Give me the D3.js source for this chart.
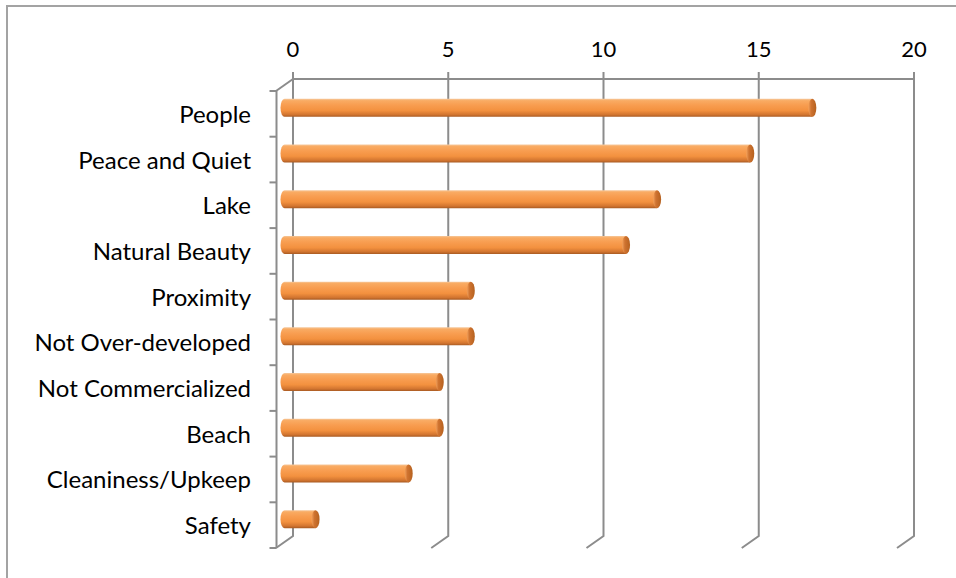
<meta charset="utf-8">
<html>
<head>
<style>
  body { margin: 0; background: #fff; }
  svg text { font-family: Lato, "Open Sans", sans-serif; fill: #000; }
</style>
</head>
<body>
<script src="https://d3js.org/d3.v7.min.js"></script>
<div id="my_dataviz"></div>
<script>

// data
var categories = ["People", "Peace and Quiet", "Lake", "Natural Beauty", "Proximity",
                  "Not Over-developed", "Not Commercialized", "Beach", "Cleaniness/Upkeep", "Safety"];
var values = [17, 15, 12, 11, 6, 6, 5, 5, 4, 1];
var tickValues = [0, 5, 10, 15, 20];

var width = 956, height = 578;

// back wall frame and 3d depth offset
var wallLeft = 293, wallRight = 914, wallTop = 79, wallBottom = 536;
var depthX = -17, depthY = 12;
var gridColor = "#8c8c8c";

var svg = d3.select("#my_dataviz")
  .append("svg")
    .attr("width", width)
    .attr("height", height);

// chart area border
svg.append("rect")
  .attr("x", 7).attr("y", 6)
  .attr("width", width + 20).attr("height", height + 20)
  .attr("fill", "#fff")
  .attr("stroke", "#a3a3a3")
  .attr("stroke-width", 2);

var x = d3.scaleLinear()
  .domain([0, 20])
  .range([wallLeft, wallRight]);

// category bands on the front plane
var y = d3.scaleBand()
  .domain(categories)
  .range([wallTop + depthY, wallBottom + depthY]);

var defs = svg.append("defs");
var bodyGrad = defs.append("linearGradient")
  .attr("id", "cylBody").attr("x1", 0).attr("y1", 0).attr("x2", 0).attr("y2", 1);
[["0%", "#f6c89c"], ["10%", "#f9ab63"], ["35%", "#f89d50"], ["65%", "#f3913f"],
 ["88%", "#d27530"], ["100%", "#a85a22"]].forEach(function(s) {
  bodyGrad.append("stop").attr("offset", s[0]).attr("stop-color", s[1]);
});
var capGrad = defs.append("linearGradient")
  .attr("id", "cylCap").attr("x1", 0).attr("y1", 0).attr("x2", 1).attr("y2", 0);
[["0%", "#f2a15c"], ["35%", "#cf7330"], ["100%", "#b5611f"]].forEach(function(s) {
  capGrad.append("stop").attr("offset", s[0]).attr("stop-color", s[1]);
});

// gridlines on the back wall
var grid = svg.append("g").attr("stroke", gridColor).attr("stroke-width", 2).attr("fill", "none");
grid.selectAll(".vgrid")
  .data(tickValues)
  .enter().append("path")
    .attr("class", "vgrid")
    .attr("d", function(d) {
      var gx = x(d);
      return "M" + gx + "," + (wallTop - 7) + "V" + wallBottom +
             "l" + depthX + "," + depthY;
    });
grid.append("path")
  .attr("d", "M" + x(0) + "," + wallTop + "H" + x(20));
grid.append("path")
  .attr("d", "M" + x(0) + "," + wallTop + "l" + depthX + "," + depthY);

// left (category) axis on the front plane
var axisX = wallLeft + depthX + 0.5;
grid.append("path")
  .attr("d", "M" + axisX + "," + (wallTop + depthY) + "V" + (wallBottom + depthY));
grid.selectAll(".ytick")
  .data(d3.range(categories.length + 1))
  .enter().append("path")
    .attr("class", "ytick")
    .attr("d", function(i) {
      var ty = wallTop + depthY + i * y.step();
      return "M" + (axisX - 7) + "," + ty + "H" + axisX;
    });

// top value labels
svg.append("g").selectAll("text")
  .data(tickValues)
  .enter().append("text")
    .attr("x", function(d) { return x(d); })
    .attr("y", 57)
    .attr("text-anchor", "middle")
    .style("font-size", "22px")
    .text(function(d) { return d; });

// category labels
svg.append("g").selectAll("text")
  .data(categories)
  .enter().append("text")
    .attr("x", 251)
    .attr("y", function(d) { return y(d) + y.bandwidth() / 2 + 9; })
    .attr("text-anchor", "end")
    .style("font-size", "24px")
    .text(function(d) { return d; });

// cylinders, sitting half way into the depth
var barH = 18, capRx = 4;
var bars = svg.append("g").selectAll("g")
  .data(categories)
  .enter().append("g")
    .attr("transform", function(d) {
      var cy = y(d) + y.bandwidth() / 2 - depthY / 2;
      return "translate(" + (depthX / 2) + "," + (cy - barH / 2) + ")";
    });

bars.append("path")
  .attr("fill", "url(#cylBody)")
  .attr("d", function(d, i) {
    var x0 = x(0), x1 = x(values[i]);
    return "M" + x0 + ",0H" + x1 + "V" + barH + "H" + x0 +
           "A" + capRx + "," + (barH / 2) + " 0 0 1 " + x0 + ",0Z";
  });
bars.append("ellipse")
  .attr("cx", function(d, i) { return x(values[i]); })
  .attr("cy", barH / 2)
  .attr("rx", capRx)
  .attr("ry", barH / 2)
  .attr("fill", "url(#cylCap)");

</script>
</body>
</html>
